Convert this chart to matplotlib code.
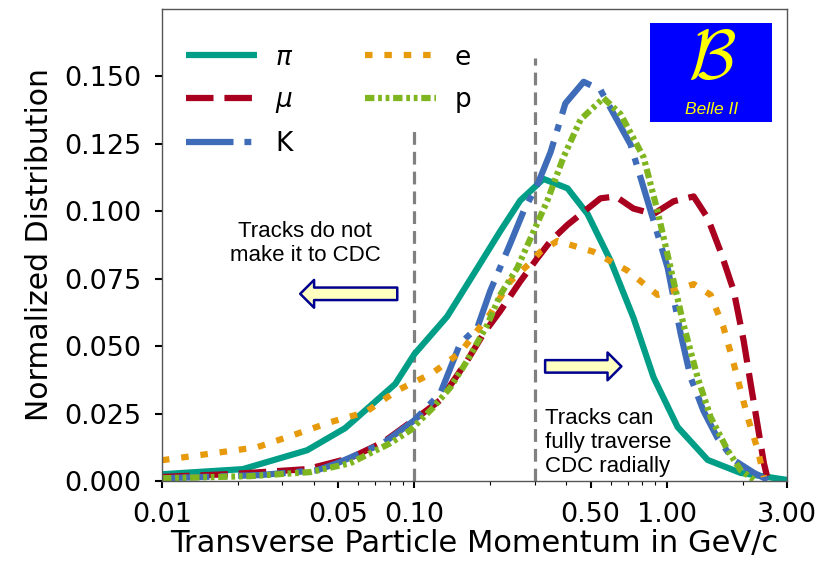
import matplotlib
matplotlib.use("Agg")
import matplotlib.pyplot as plt
from matplotlib.patches import Rectangle

# ---------------- data ----------------
pi_x = [0.01, 0.0209, 0.0376, 0.0532, 0.0841, 0.1, 0.135, 0.178, 0.219, 0.263,
        0.325, 0.405, 0.486, 0.600, 0.739, 0.888, 1.106, 1.455, 1.966, 3.0]
pi_y = [0.0025, 0.0044, 0.0114, 0.0196, 0.036, 0.047, 0.061, 0.079, 0.0926, 0.104,
        0.112, 0.1085, 0.099, 0.0816, 0.0605, 0.0384, 0.020, 0.0078, 0.003, 0.0004]

mu_x = [0.01, 0.0191, 0.0376, 0.0557, 0.0753, 0.1028, 0.1268, 0.162, 0.188, 0.219,
        0.263, 0.308, 0.347, 0.405, 0.547, 0.628, 0.739, 0.888, 1.066, 1.28,
        1.455, 1.637, 1.845, 2.02, 2.154, 2.30, 2.43, 2.52]
mu_y = [0.0015, 0.0026, 0.0044, 0.0085, 0.0144, 0.0236, 0.030, 0.0446, 0.0546, 0.063,
        0.074, 0.0827, 0.089, 0.095, 0.1048, 0.1055, 0.101, 0.099, 0.1037, 0.1055,
        0.0975, 0.085, 0.0705, 0.052, 0.036, 0.020, 0.0066, 0.0004]

k_x = [0.01, 0.0245, 0.0412, 0.0495, 0.0753, 0.1, 0.1268, 0.152, 0.178, 0.200,
       0.240, 0.271, 0.308, 0.347, 0.397, 0.469, 0.547, 0.720, 0.865, 1.01,
       1.137, 1.245, 1.40, 1.59, 1.845, 2.22, 2.52]
k_y = [0.001, 0.0022, 0.004, 0.0066, 0.014, 0.0225, 0.0325, 0.051, 0.057, 0.0705,
       0.088, 0.100, 0.110, 0.122, 0.140, 0.148, 0.145, 0.1247, 0.100, 0.079,
       0.0546, 0.0384, 0.026, 0.016, 0.0078, 0.003, 0.0004]

e_x = [0.01, 0.0141, 0.0238, 0.0331, 0.0464, 0.064, 0.0857, 0.118, 0.152, 0.200,
       0.240, 0.289, 0.316, 0.369, 0.513, 0.700, 0.921, 1.066, 1.28, 1.495,
       1.68, 1.845, 2.095, 2.30, 2.43]
e_y = [0.0077, 0.0096, 0.0125, 0.017, 0.0218, 0.0255, 0.0336, 0.040, 0.0476, 0.062,
       0.074, 0.081, 0.085, 0.089, 0.085, 0.078, 0.069, 0.0705, 0.073, 0.069,
       0.057, 0.0435, 0.0236, 0.0114, 0.0015]

p_x = [0.01, 0.0223, 0.0387, 0.0557, 0.0803, 0.0964, 0.119, 0.139, 0.162, 0.195,
       0.219, 0.256, 0.289, 0.337, 0.390, 0.456, 0.562, 0.657, 0.811, 0.921,
       1.037, 1.167, 1.327, 1.495, 1.746, 1.966, 2.22]
p_y = [0.001, 0.0018, 0.0033, 0.0066, 0.014, 0.0188, 0.0273, 0.0347, 0.0446, 0.058,
       0.069, 0.079, 0.090, 0.104, 0.120, 0.134, 0.142, 0.136, 0.120, 0.100,
       0.079, 0.058, 0.0384, 0.0236, 0.0114, 0.004, 0.0004]

x_ticks = [0.01, 0.05, 0.10, 0.50, 1.00, 3.00]
x_ticklabels = ["0.01", "0.05", "0.10", "0.50", "1.00", "3.00"]
y_ticks = [0.0, 0.025, 0.05, 0.075, 0.1, 0.125, 0.15]
y_ticklabels = ["0.000", "0.025", "0.050", "0.075", "0.100", "0.125", "0.150"]

cut_x = [0.1, 0.3]
cut_top = [0.131, 0.157]

# ---------------- figure ----------------
plt.rcParams['font.family'] = ['DejaVu Sans']
fig = plt.figure(figsize=(8.35, 5.61), dpi=100)
ax = fig.add_axes([0.194, 0.1426, 0.7485, 0.8414])

lw = 4.5
c_pi, c_mu, c_k, c_e, c_p = '#009e86', '#a8001e', '#3f6cb8', '#e69a0c', '#7fb51f'

for xv, top in zip(cut_x, cut_top):
    ax.plot([xv, xv], [0, top], color='#808080', lw=2.3, dashes=(4, 2.2), zorder=1)

ax.plot(pi_x, pi_y, color=c_pi, lw=lw, label=r'$\pi$', solid_capstyle='butt')
ax.plot(mu_x, mu_y, color=c_mu, lw=lw, label=r'$\mu$', dashes=(4.4, 1.75), dash_capstyle='butt')
ax.plot(k_x, k_y, color=c_k, lw=lw, label='K', dashes=(7.6, 1.75, 1.1, 1.75), dash_capstyle='butt')
ax.plot(e_x, e_y, color=c_e, lw=lw, label='e', dashes=(1.2, 1.9), dash_capstyle='butt')
ax.plot(p_x, p_y, color=c_p, lw=lw, label='p', dashes=(1.5, 0.6, 0.6, 0.6, 0.6, 0.6), dash_capstyle='butt')

ax.set_xscale('log')
ax.set_xlim(0.01, 3.0)
ax.set_ylim(0, 0.175)
ax.set_xticks(x_ticks)
ax.set_xticklabels(x_ticklabels)
ax.set_yticks(y_ticks)
ax.set_yticklabels(y_ticklabels)
ax.tick_params(axis='both', which='major', labelsize=19.5, length=5, width=1.5,
               direction='out', pad=10)
ax.tick_params(axis='x', which='minor', length=3, width=0.8)
for s in ax.spines.values():
    s.set_color('#555555')
    s.set_linewidth(1.0)

ax.set_xlabel('Transverse Particle Momentum in GeV/c', fontsize=22, labelpad=1)
ax.set_ylabel('Normalized Distribution', fontsize=21.5, labelpad=7)

h, l = ax.get_legend_handles_labels()
leg = ax.legend(h, l, ncol=2, loc='upper left', bbox_to_anchor=(0.0, 0.975), frameon=False,
                fontsize=19, handlelength=2.7, handletextpad=0.7, columnspacing=2.7,
                labelspacing=0.62)

# annotations
ax.text(0.0369, 0.0882, 'Tracks do not\nmake it to CDC', ha='center', va='center', fontsize=16,
        family='Liberation Sans', linespacing=1.2)
ax.text(0.33, 0.0015, 'Tracks can\nfully traverse\nCDC radially', ha='left', va='bottom',
        fontsize=16, family='Liberation Sans', linespacing=1.2)

arrow_kw = dict(arrowstyle='simple,head_length=1.0,head_width=2.0,tail_width=0.9',
                fc='#ffffc0', ec='#000090', lw=1.8, mutation_scale=10, shrinkA=0, shrinkB=0)
ax.annotate('', xy=(0.0353, 0.0694), xytext=(0.0856, 0.0694), arrowprops=arrow_kw)
ax.annotate('', xy=(0.662, 0.0425), xytext=(0.33, 0.0425), arrowprops=arrow_kw)

# Belle II logo
ax.add_patch(Rectangle((0.781, 0.761), 0.195, 0.209, transform=ax.transAxes,
                       facecolor='#0000ff', edgecolor='none', zorder=5))
ax.text(0.88, 0.895, r'$\mathcal{B}$', transform=ax.transAxes, ha='center', va='center',
        color='#ffff00', fontsize=50, math_fontfamily='cm', zorder=6)
ax.text(0.88, 0.788, 'Belle II', transform=ax.transAxes, ha='center', va='center',
        color='#ffff00', fontsize=12.5, style='italic', family='Liberation Sans', zorder=6)

fig.savefig('out.png', dpi=100)
